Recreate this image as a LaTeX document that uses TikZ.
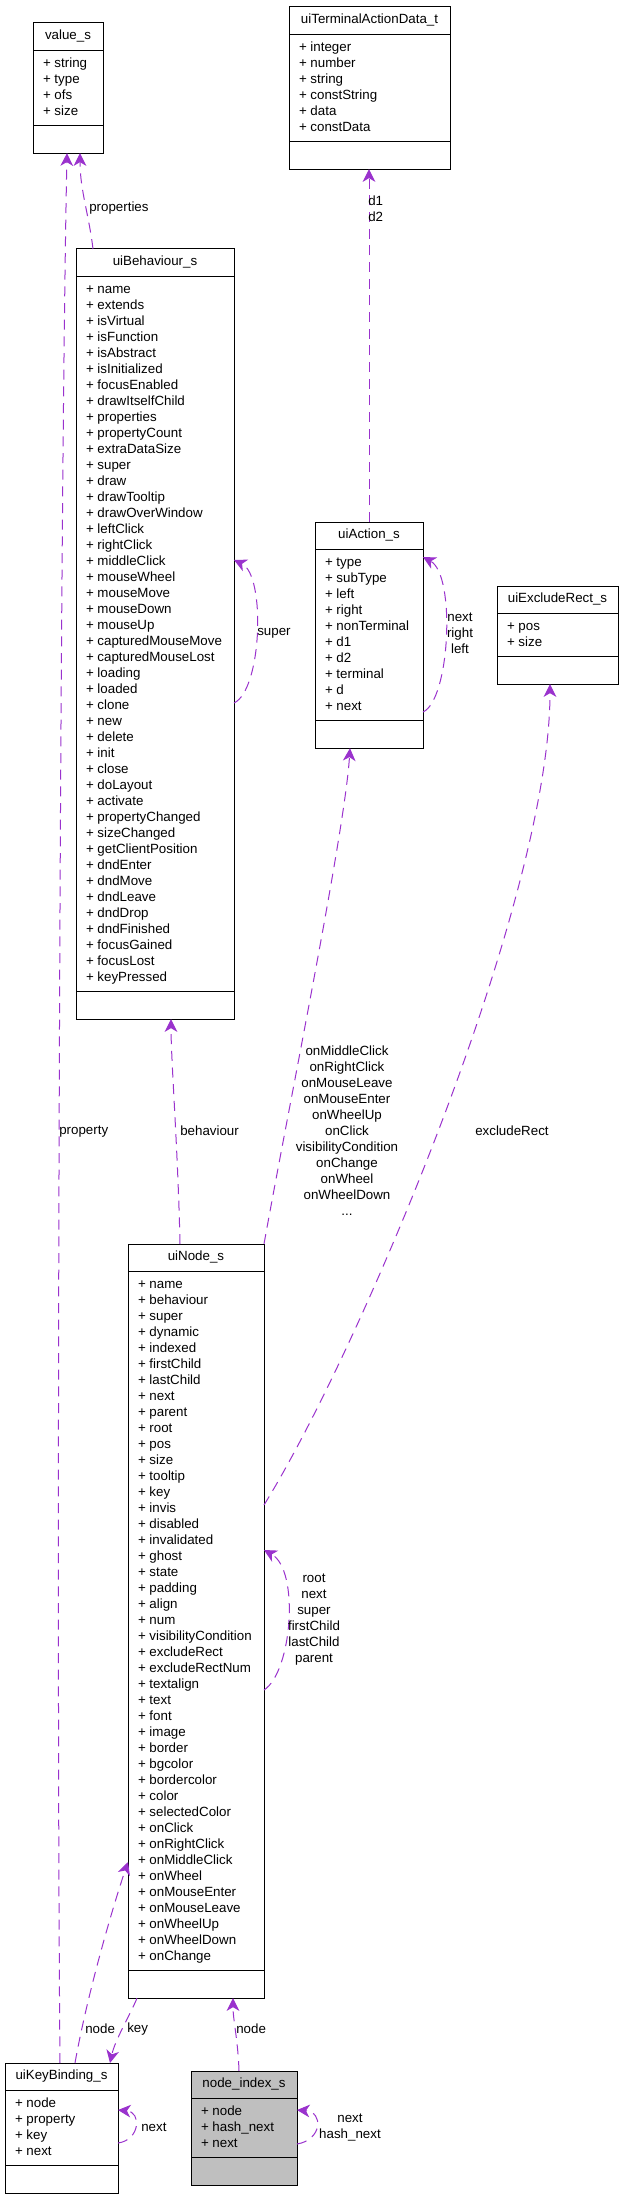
\documentclass[tikz,border=0pt]{standalone}
\usepackage{fontspec}
\setmainfont{Liberation Sans}
\usepackage{tikz}
\usetikzlibrary{arrows.meta,shapes.multipart,calc}

\definecolor{usecol}{HTML}{9A32CD}
\definecolor{keycol}{HTML}{BFBFBF}
\newcommand{\members}[1]{\begin{tabular}{@{}l@{}}#1\end{tabular}}

\begin{document}
\begin{tikzpicture}[x=0.75pt, y=-0.75pt,
  classbox/.style={rectangle split, rectangle split parts=3, draw, line width=0.75pt,
    rectangle split part align={center,left,left}, inner xsep=7.5pt, inner ysep=3.9pt,
    outer sep=0pt, anchor=north west, font=\fontsize{10}{12}\selectfont},
  uses/.style={draw=usecol, line width=0.75pt, dash pattern=on 7.5pt off 5pt,
    -{Stealth[length=9.5pt, width=9.5pt, inset=2.8pt]}},
  edgelabel/.style={font=\fontsize{10}{12}\selectfont, align=center, inner sep=0pt}]
  \useasboundingbox (0,0) rectangle (623,2197);

  % Classes
  \node[classbox, minimum width=70*0.75pt] (value) at (33,23)
    {\strut value\_s
     \nodepart{two}\members{+ string\\ + type\\ + ofs\\ + size}
     \nodepart{three}\strut};
  \node[classbox, minimum width=161*0.75pt] (term) at (289,7)
    {\strut uiTerminalActionData\_t
     \nodepart{two}\members{+ integer\\ + number\\ + string\\ + constString\\ + data\\ + constData}
     \nodepart{three}\strut};
  \node[classbox, minimum width=158*0.75pt] (beh) at (76,249)
    {\strut uiBehaviour\_s
     \nodepart{two}\members{+ name\\ + extends\\ + isVirtual\\ + isFunction\\ + isAbstract\\
       + isInitialized\\ + focusEnabled\\ + drawItselfChild\\ + properties\\ + propertyCount\\
       + extraDataSize\\ + super\\ + draw\\ + drawTooltip\\ + drawOverWindow\\ + leftClick\\
       + rightClick\\ + middleClick\\ + mouseWheel\\ + mouseMove\\ + mouseDown\\ + mouseUp\\
       + capturedMouseMove\\ + capturedMouseLost\\ + loading\\ + loaded\\ + clone\\ + new\\
       + delete\\ + init\\ + close\\ + doLayout\\ + activate\\ + propertyChanged\\
       + sizeChanged\\ + getClientPosition\\ + dndEnter\\ + dndMove\\ + dndLeave\\ + dndDrop\\
       + dndFinished\\ + focusGained\\ + focusLost\\ + keyPressed}
     \nodepart{three}\strut};
  \node[classbox, minimum width=108*0.75pt] (action) at (315,522)
    {\strut uiAction\_s
     \nodepart{two}\members{+ type\\ + subType\\ + left\\ + right\\ + nonTerminal\\ + d1\\
       + d2\\ + terminal\\ + d\\ + next}
     \nodepart{three}\strut};
  \node[classbox, minimum width=121*0.75pt] (excl) at (497,586)
    {\strut uiExcludeRect\_s
     \nodepart{two}\members{+ pos\\ + size}
     \nodepart{three}\strut};
  \node[classbox, minimum width=136*0.75pt] (node) at (128,1244)
    {\strut uiNode\_s
     \nodepart{two}\members{+ name\\ + behaviour\\ + super\\ + dynamic\\ + indexed\\
       + firstChild\\ + lastChild\\ + next\\ + parent\\ + root\\ + pos\\ + size\\ + tooltip\\
       + key\\ + invis\\ + disabled\\ + invalidated\\ + ghost\\ + state\\ + padding\\ + align\\
       + num\\ + visibilityCondition\\ + excludeRect\\ + excludeRectNum\\ + textalign\\
       + text\\ + font\\ + image\\ + border\\ + bgcolor\\ + bordercolor\\ + color\\
       + selectedColor\\ + onClick\\ + onRightClick\\ + onMiddleClick\\ + onWheel\\
       + onMouseEnter\\ + onMouseLeave\\ + onWheelUp\\ + onWheelDown\\ + onChange}
     \nodepart{three}\strut};
  \node[classbox, minimum width=113*0.75pt] (kb) at (5,2063)
    {\strut uiKeyBinding\_s
     \nodepart{two}\members{+ node\\ + property\\ + key\\ + next}
     \nodepart{three}\strut};
  \node[classbox, fill=keycol, minimum width=106*0.75pt] (nidx) at (191,2071)
    {\strut node\_index\_s
     \nodepart{two}\members{+ node\\ + hash\_next\\ + next}
     \nodepart{three}\strut};

  % Usage relations
  \draw[uses] ($(kb.north west)+(55,0)$) .. controls (56,1600) and (60,500)
    .. ($(value.south west)+(34,0)$);
  \draw[uses] ($(beh.north west)+(17,0)$) .. controls (89,215) and (80,190)
    .. ($(value.south west)+(47,0)$);
  \draw[uses] ($(beh.north east)+(0,454)$) .. controls (262,690) and (266,575)
    .. ($(beh.north east)+(0,311)$);
  \draw[uses] ($(action.north west)+(54,0)$) -- ($(term.south west)+(80,0)$);
  \draw[uses] ($(action.north east)+(0,190)$) .. controls (450,700) and (456,575)
    .. ($(action.north east)+(0,35)$);
  \draw[uses] (node.north east) .. controls (290,1100) and (345,830)
    .. ($(action.south west)+(35,0)$);
  \draw[uses] ($(node.north west)+(52,0)$) .. controls (178,1150) and (171,1060)
    .. ($(beh.south west)+(95,0)$);
  \draw[uses] ($(node.north east)+(0,261)$) .. controls (360,1350) and (550,900)
    .. ($(excl.south west)+(53,0)$);
  \draw[uses] ($(node.north east)+(0,446)$) .. controls (292,1672) and (300,1570)
    .. ($(node.north east)+(0,306)$);
  \draw[uses] ($(kb.north west)+(70,0)$) .. controls (88,1990) and (115,1900)
    .. ($(node.north west)+(0,618)$);
  \draw[uses] ($(node.south west)+(9,0)$) .. controls (130,2015) and (115,2040)
    .. ($(kb.north west)+(105,0)$);
  \draw[uses] ($(nidx.north west)+(48,0)$) .. controls (238,2040) and (233,2020)
    .. ($(node.south west)+(105,0)$);
  \draw[uses] ($(kb.north east)+(0,80)$) .. controls (140,2140) and (142,2112)
    .. ($(kb.north east)+(0,47)$);
  \draw[uses] ($(nidx.north east)+(0,73)$) .. controls (322,2140) and (324,2112)
    .. ($(nidx.north east)+(0,39)$);

  % Labels
  \node[edgelabel, anchor=west] (lproperty) at (59,1132) {property};
  \node[edgelabel, anchor=west] (lproperties) at (89,208) {properties};
  \node[edgelabel, anchor=west] (lsuper) at (257,633) {super};
  \node[edgelabel, anchor=west] (ld) at (368,208.5) {d1\\d2};
  \node[edgelabel] (lactself) at (460,633) {next\\right\\left};
  \node[edgelabel] (lcallbacks) at (347,1131)
    {onMiddleClick\\onRightClick\\onMouseLeave\\onMouseEnter\\onWheelUp\\onClick\\
     visibilityCondition\\onChange\\onWheel\\onWheelDown\\...};
  \node[edgelabel, anchor=west] (lbehaviour) at (180,1131) {behaviour};
  \node[edgelabel, anchor=west] (lexcl) at (475,1131) {excludeRect};
  \node[edgelabel] (lnodeself) at (314,1620)
    {root\\next\\super\\firstChild\\lastChild\\parent};
  \node[edgelabel, anchor=west] (lkbnode) at (85,2029) {node};
  \node[edgelabel, anchor=west] (lkey) at (127,2029) {key};
  \node[edgelabel, anchor=west] (lidxnode) at (236,2029) {node};
  \node[edgelabel, anchor=west] (lkbnext) at (141,2127) {next};
  \node[edgelabel] (lidxself) at (350,2127) {next\\hash\_next};

\end{tikzpicture}
\end{document}
